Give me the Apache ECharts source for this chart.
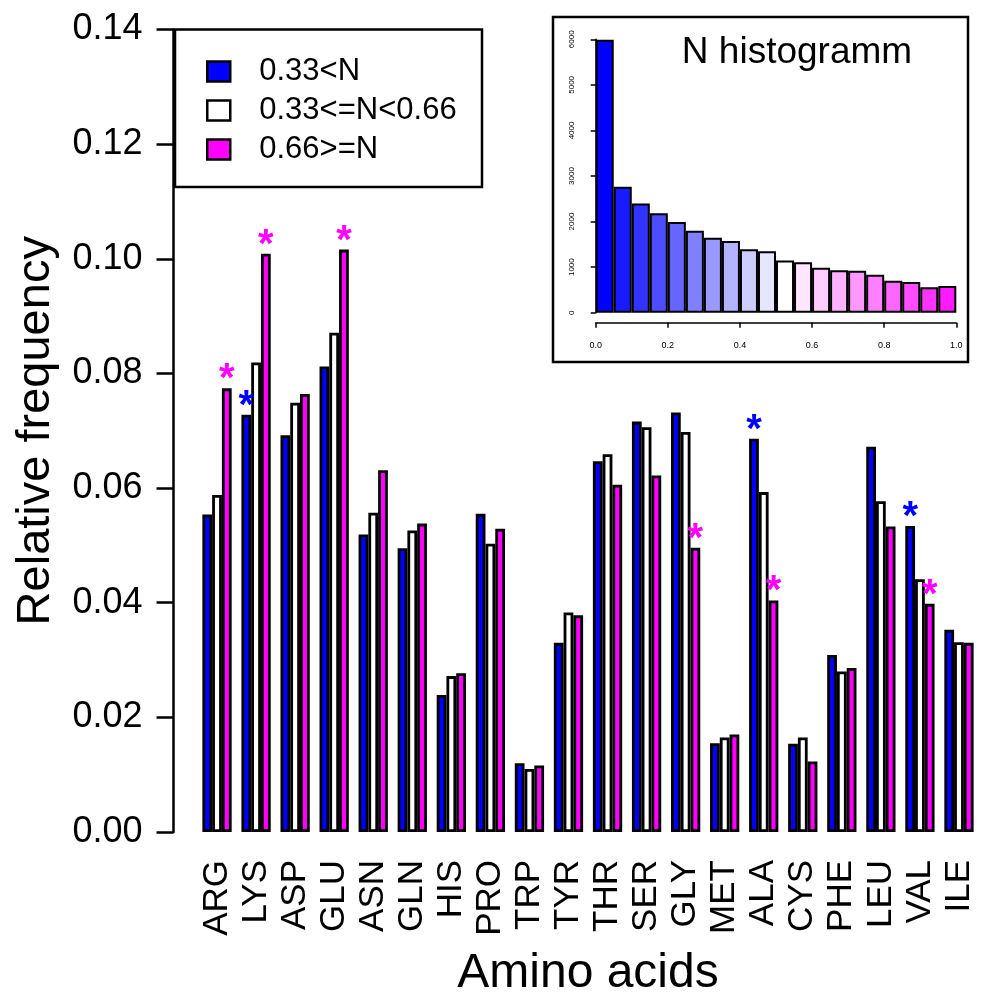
<!DOCTYPE html>
<html>
<head>
<meta charset="utf-8">
<script src="https://cdn.jsdelivr.net/npm/echarts@6/dist/echarts.min.js"></script>
<style>html,body{margin:0;padding:0;background:#fff}#c{width:1004px;height:1004px}</style>
</head>
<body>
<div id="c"></div>
<script>
// ---- data ----
const categories = ['ARG','LYS','ASP','GLU','ASN','GLN','HIS','PRO','TRP','TYR','THR','SER','GLY','MET','ALA','CYS','PHE','LEU','VAL','ILE'];
const seriesNames = ['0.33<N', '0.33<=N<0.66', '0.66>=N'];
const lowN  = [0.0554,0.0728,0.0692,0.0812,0.0519,0.0495,0.0239,0.0555,0.0120,0.0330,0.0647,0.0716,0.0732,0.0155,0.0686,0.0154,0.0309,0.0672,0.0534,0.0353];
const midN  = [0.0588,0.0819,0.0749,0.0871,0.0557,0.0526,0.0272,0.0503,0.0110,0.0383,0.0659,0.0706,0.0698,0.0165,0.0593,0.0165,0.0280,0.0577,0.0441,0.0331];
const highN = [0.0774,0.1009,0.0764,0.1016,0.0631,0.0538,0.0277,0.0529,0.0116,0.0378,0.0606,0.0622,0.0496,0.0170,0.0404,0.0123,0.0286,0.0533,0.0398,0.0330];
const lowStars  = ['LYS','ALA','VAL'];
const highStars = ['ARG','LYS','GLU','GLY','ALA','VAL'];

const histCounts = [5990,2765,2399,2180,1990,1800,1646,1573,1390,1346,1148,1105,988,929,922,834,702,673,556,585];
const histBins = histCounts.map((_, i) => String(i));

// ---- styles ----
const FONT = '"Liberation Sans", Arial, Helvetica, sans-serif';
const colors = ['#0000ff', '#ffffff', '#ff00ff'];
function histColor(i) {
  // blue -> white -> magenta ramp
  if (i <= 10) { const t = i / 10; const c = Math.round(255 * t); return `rgb(${c},${c},255)`; }
  const t = (i - 10) / 10; const g = Math.round(255 * (1 - t)); return `rgb(255,${g},255)`;
}

function withStars(vals, stars) {
  return vals.map((v, i) => stars.includes(categories[i]) ? { value: v, label: { show: true } } : v);
}

const starLabel = (color) => ({
  show: false, position: 'top', distance: -12, formatter: '*',
  fontSize: 40, fontFamily: FONT, color: color, fontWeight: 'bold'
});

const chart = echarts.init(document.getElementById('c'), null, { renderer: 'canvas' });

const option = {
  animation: false,
  backgroundColor: '#ffffff',
  textStyle: { fontFamily: FONT, color: '#000' },
  grid: [
    { left: 197.5, right: 25.5, top: 29.5, bottom: 172 },
    { left: 595.7, right: 47.7, top: 39.3, bottom: 691.3 }
  ],
  legend: {
    show: true, left: 201, top: 51, orient: 'vertical',
    icon: 'rect', itemWidth: 23, itemHeight: 20, itemGap: 8,
    selectedMode: false,
    data: seriesNames,
    itemStyle: { borderColor: '#000', borderWidth: 2.5 },
    textStyle: { fontSize: 31, fontFamily: FONT, color: '#000', padding: [0, 0, 0, 24] }
  },
  xAxis: [
    {
      type: 'category', gridIndex: 0, data: categories,
      axisLine: { show: false }, axisTick: { show: false },
      axisLabel: { rotate: 90, fontSize: 35, fontFamily: FONT, color: '#000', margin: 28, interval: 0 },
      name: 'Amino acids', nameLocation: 'middle', nameGap: 118,
      nameTextStyle: { fontSize: 48, fontFamily: FONT, color: '#000' }
    },
    {
      type: 'category', gridIndex: 1, data: histBins, show: false, position: 'top'
    },
    {
      type: 'value', gridIndex: 1, min: 0, max: 1, interval: 0.2, offset: 10, position: 'bottom',
      axisLine: { show: true, lineStyle: { color: '#000', width: 1.5 } },
      axisTick: { show: true, length: 5, lineStyle: { color: '#000', width: 1.5 } },
      axisLabel: { fontSize: 9, fontFamily: FONT, color: '#000', margin: 18, formatter: v => v.toFixed(1) },
      splitLine: { show: false }
    }
  ],
  yAxis: [
    {
      type: 'value', gridIndex: 0, min: 0, max: 0.14, interval: 0.02, offset: 24,
      axisLine: { show: true, lineStyle: { color: '#000', width: 2.5 } },
      axisTick: { show: true, length: 17, lineStyle: { color: '#000', width: 2.5 } },
      axisLabel: { fontSize: 36, fontFamily: FONT, color: '#000', margin: 31, formatter: v => v.toFixed(2) },
      splitLine: { show: false },
      name: 'Relative frequency', nameLocation: 'middle', nameGap: 114, nameRotate: 90,
      nameTextStyle: { fontSize: 47, fontFamily: FONT, color: '#000' }
    },
    {
      type: 'value', gridIndex: 1, min: 0, max: 6000, interval: 1000, offset: 14,
      axisLine: { show: true, lineStyle: { color: '#000', width: 1.5 } },
      axisTick: { show: true, length: 5, lineStyle: { color: '#000', width: 1.5 } },
      axisLabel: { fontSize: 8, fontFamily: FONT, color: '#000', margin: 6, rotate: 90, formatter: v => String(v) },
      splitLine: { show: false }
    }
  ],
  graphic: [
    { type: 'rect', z: 0, shape: { x: 175, y: 29.5, width: 307, height: 157.5 },
      style: { fill: '#fff', stroke: '#000', lineWidth: 2.5 } },
    { type: 'rect', z: 0, shape: { x: 553, y: 17, width: 415, height: 345 },
      style: { fill: '#fff', stroke: '#000', lineWidth: 2.5 } },
    { type: 'text', z: 10, x: 797, y: 53,
      style: { text: 'N histogramm', font: '37px ' + FONT, fill: '#000', textAlign: 'center', textVerticalAlign: 'middle' } }
  ],
  series: [
    {
      name: seriesNames[0], type: 'bar', xAxisIndex: 0, yAxisIndex: 0,
      barGap: '0%', barCategoryGap: '25%',
      data: withStars(lowN, lowStars),
      itemStyle: { color: colors[0], borderColor: '#000', borderWidth: 2.8 },
      label: starLabel('#0000ff')
    },
    {
      name: seriesNames[1], type: 'bar', xAxisIndex: 0, yAxisIndex: 0,
      barGap: '0%', barCategoryGap: '25%',
      data: midN,
      itemStyle: { color: colors[1], borderColor: '#000', borderWidth: 2.8 }
    },
    {
      name: seriesNames[2], type: 'bar', xAxisIndex: 0, yAxisIndex: 0,
      barGap: '0%', barCategoryGap: '25%',
      data: withStars(highN, highStars),
      itemStyle: { color: colors[2], borderColor: '#000', borderWidth: 2.8 },
      label: starLabel('#ff00ff')
    },
    {
      name: 'hist', type: 'bar', xAxisIndex: 1, yAxisIndex: 1,
      barCategoryGap: '0%',
      data: histCounts.map((v, i) => ({ value: v, itemStyle: { color: histColor(i) } })),
      itemStyle: { borderColor: '#000', borderWidth: 2 }
    }
  ]
};
chart.setOption(option);
</script>
</body>
</html>
